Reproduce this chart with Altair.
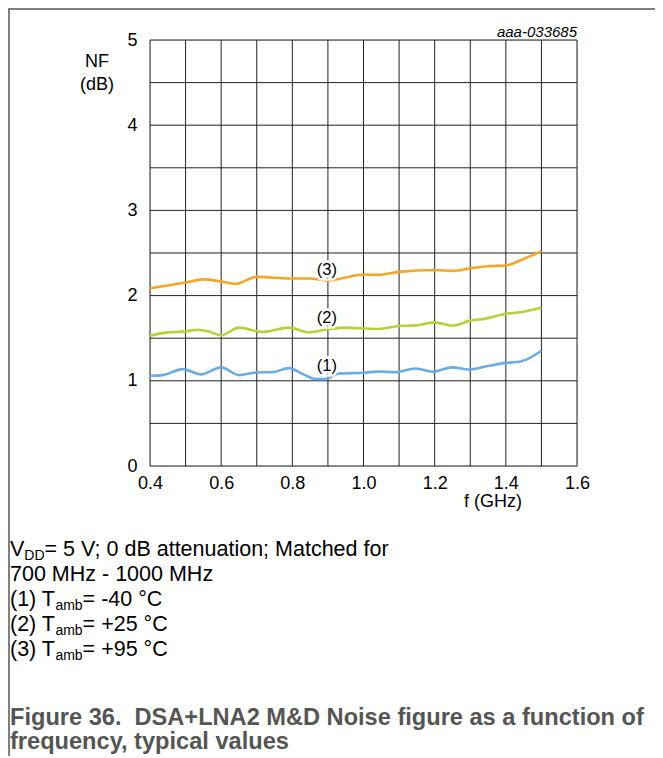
import altair as alt
import pandas as pd

# ---------------- data ----------------
freq_1 = [0.40, 0.436, 0.492, 0.543, 0.60, 0.65, 0.698, 0.745, 0.79, 0.83, 0.862, 0.894,
          0.93, 1.00, 1.044, 1.09, 1.147, 1.194, 1.25, 1.297, 1.353, 1.40, 1.442, 1.50]
nf_1 = [1.059, 1.067, 1.137, 1.075, 1.157, 1.067, 1.098, 1.102, 1.149, 1.078, 1.024, 1.02,
        1.086, 1.094, 1.11, 1.10, 1.145, 1.106, 1.157, 1.133, 1.176, 1.21, 1.227, 1.353]

freq_2 = [0.40, 0.445, 0.50, 0.535, 0.567, 0.60, 0.65, 0.716, 0.79, 0.847, 0.904, 0.95,
          1.035, 1.10, 1.147, 1.20, 1.25, 1.30, 1.344, 1.40, 1.442, 1.50]
nf_2 = [1.53, 1.565, 1.58, 1.60, 1.576, 1.533, 1.624, 1.573, 1.624, 1.569, 1.608, 1.624,
        1.608, 1.643, 1.65, 1.686, 1.647, 1.706, 1.73, 1.788, 1.804, 1.86]

freq_3 = [0.40, 0.50, 0.55, 0.60, 0.64, 0.70, 0.80, 0.85, 0.90, 1.00, 1.04, 1.10, 1.20,
          1.25, 1.30, 1.35, 1.40, 1.45, 1.50]
nf_3 = [2.086, 2.153, 2.19, 2.165, 2.137, 2.22, 2.20, 2.20, 2.176, 2.247, 2.243, 2.278, 2.30,
        2.29, 2.32, 2.345, 2.353, 2.43, 2.52]

series_names = ["(1)", "(2)", "(3)"]
series_colors = ["#6aade4", "#b5d334", "#f5a623"]

label_freq = [0.897, 0.897, 0.897]
label_nf = [1.173, 1.733, 2.302]

x_grid = [0.4, 0.5, 0.6, 0.7, 0.8, 0.9, 1.0, 1.1, 1.2, 1.3, 1.4, 1.5, 1.6]
y_grid = [0, 0.5, 1, 1.5, 2, 2.5, 3, 3.5, 4, 4.5, 5]
x_labels = [0.4, 0.6, 0.8, 1.0, 1.2, 1.4, 1.6]
y_labels = [0, 1, 2, 3, 4, 5]

notes = [
    ("V", "DD", "= 5 V; 0 dB attenuation; Matched for"),
    ("700 MHz - 1000 MHz", "", ""),
    ("(1) T", "amb", "= -40 °C"),
    ("(2) T", "amb", "= +25 °C"),
    ("(3) T", "amb", "= +95 °C"),
]
caption = ["Figure 36.\u00a0 DSA+LNA2 M&D Noise figure as a function of",
           "frequency, typical values"]

# ---------------- layout ----------------
W, H = 427, 426
PAD_L, PAD_T = 142, 32
FONT = "Liberation Sans, Arial, Helvetica, sans-serif"
BODY = 21.5
SUB = 14

# Arial advance widths (1/1000 em) for the characters placed before subscripts
AW = {"V": 667, "D": 722, "T": 611, "a": 556, "m": 833, "b": 556, "(": 333, ")": 333,
      "1": 556, "2": 556, "3": 556, "0": 556, "7": 556, " ": 278, "M": 833, "H": 722,
      "z": 500, "-": 333}


def tw(s, size):
    return sum(AW.get(c, 556) for c in s) * size / 1000.0


rows = []
for name, fr, nf in zip(series_names, [freq_1, freq_2, freq_3], [nf_1, nf_2, nf_3]):
    for f, v in zip(fr, nf):
        rows.append({"f": f, "nf": v, "s": name})
df = pd.DataFrame(rows)

lab = pd.DataFrame({"f": label_freq, "nf": label_nf, "t": series_names})

xscale = alt.Scale(domain=[0.4, 1.6], nice=False, zero=False)
yscale = alt.Scale(domain=[0, 5], nice=False)
xaxis = alt.Axis(values=x_labels, grid=False, ticks=False, domain=False, format=".1f",
                 labelFontSize=18, labelFont=FONT, labelColor="#000",
                 labelPadding=8, labelFlush=False, title=None)
yaxis = alt.Axis(values=y_labels, grid=False, ticks=False, domain=False, format="d",
                 labelFontSize=18, labelFont=FONT, labelColor="#000",
                 labelPadding=13, labelFlush=False, title=None)

vgrid = alt.Chart(pd.DataFrame({"g": x_grid})).mark_rule(color="#222", strokeWidth=1).encode(
    x=alt.X("g:Q", scale=xscale, axis=xaxis))
hgrid = alt.Chart(pd.DataFrame({"g": y_grid})).mark_rule(color="#222", strokeWidth=1).encode(
    y=alt.Y("g:Q", scale=yscale, axis=yaxis))

lines = alt.Chart(df).mark_line(interpolate="monotone", strokeWidth=2.6).encode(
    x=alt.X("f:Q", scale=xscale, axis=xaxis),
    y=alt.Y("nf:Q", scale=yscale, axis=yaxis),
    color=alt.Color("s:N", scale=alt.Scale(domain=series_names, range=series_colors), legend=None),
    detail="s:N",
)

halo = alt.Chart(lab).mark_text(font=FONT, fontSize=16.5, stroke="white", strokeWidth=5,
                                fill="white", baseline="middle").encode(
    x=alt.X("f:Q", scale=xscale, axis=xaxis), y=alt.Y("nf:Q", scale=yscale, axis=yaxis), text="t:N")
labels = alt.Chart(lab).mark_text(font=FONT, fontSize=16.5, color="#000",
                                  baseline="middle").encode(
    x=alt.X("f:Q", scale=xscale, axis=xaxis), y=alt.Y("nf:Q", scale=yscale, axis=yaxis), text="t:N")

# ---- annotation texts (pixel positions relative to plot origin) ----
center_txt = pd.DataFrame({
    "px": [-53, -53, 343],
    "py": [22, 45, 462],
    "t": ["NF", "(dB)", "f (GHz)"],
})
center_layer = alt.Chart(center_txt).mark_text(font=FONT, fontSize=18, color="#000",
                                               baseline="middle", align="center").encode(
    x=alt.X("px:Q", scale=None), y=alt.Y("py:Q", scale=None), text="t:N")

id_txt = pd.DataFrame({"px": [W], "py": [-8], "t": ["aaa-033685"]})
id_layer = alt.Chart(id_txt).mark_text(font=FONT, fontSize=15, fontStyle="italic", color="#000",
                                       baseline="middle", align="right").encode(
    x=alt.X("px:Q", scale=None), y=alt.Y("py:Q", scale=None), text="t:N")

x0 = -140
base_y = [516, 541, 566, 591, 616]
trow = []
for (main, sub, rest), by in zip(notes, base_y):
    trow.append({"px": x0, "py": by, "t": main, "fs": BODY})
    xx = x0 + tw(main, BODY)
    if sub:
        trow.append({"px": xx, "py": by + 4, "t": sub, "fs": SUB})
        xx += tw(sub, SUB)
        trow.append({"px": xx, "py": by, "t": rest, "fs": BODY})
body_df = pd.DataFrame(trow)
body_layer = alt.Chart(body_df).mark_text(font=FONT, color="#000", baseline="alphabetic",
                                          align="left").encode(
    x=alt.X("px:Q", scale=None), y=alt.Y("py:Q", scale=None), text="t:N",
    size=alt.Size("fs:Q", scale=None, legend=None))

cap_df = pd.DataFrame({"px": [x0, x0], "py": [685, 709], "t": caption})
cap_layer = alt.Chart(cap_df).mark_text(font=FONT, fontSize=23.6, fontWeight="bold", color="#555555",
                                        baseline="alphabetic", align="left").encode(
    x=alt.X("px:Q", scale=None), y=alt.Y("py:Q", scale=None), text="t:N")

# outer frame lines (top and left) of the figure box
frame = alt.Chart(pd.DataFrame({"a": [0]})).mark_rule(color="#808080", strokeWidth=2).encode(
    x=alt.value(-PAD_L + 1), x2=alt.value(-PAD_L + 1), y=alt.value(-PAD_T + 1), y2=alt.value(H + 300))
frame_top = alt.Chart(pd.DataFrame({"a": [0]})).mark_rule(color="#808080", strokeWidth=2).encode(
    x=alt.value(-PAD_L), x2=alt.value(W + 80), y=alt.value(-PAD_T + 1), y2=alt.value(-PAD_T + 1))

chart = alt.layer(vgrid, hgrid, lines, halo, labels, center_layer, id_layer, body_layer, cap_layer,
                  frame, frame_top).properties(
    width=W, height=H,
    autosize=alt.AutoSizeParams(type="none"),
    padding={"left": PAD_L, "top": PAD_T, "right": 78, "bottom": 290},
).configure_view(stroke="#000", strokeWidth=1).configure(background="white")

chart.save("out.html", embed_options={"renderer": "svg", "actions": False})
